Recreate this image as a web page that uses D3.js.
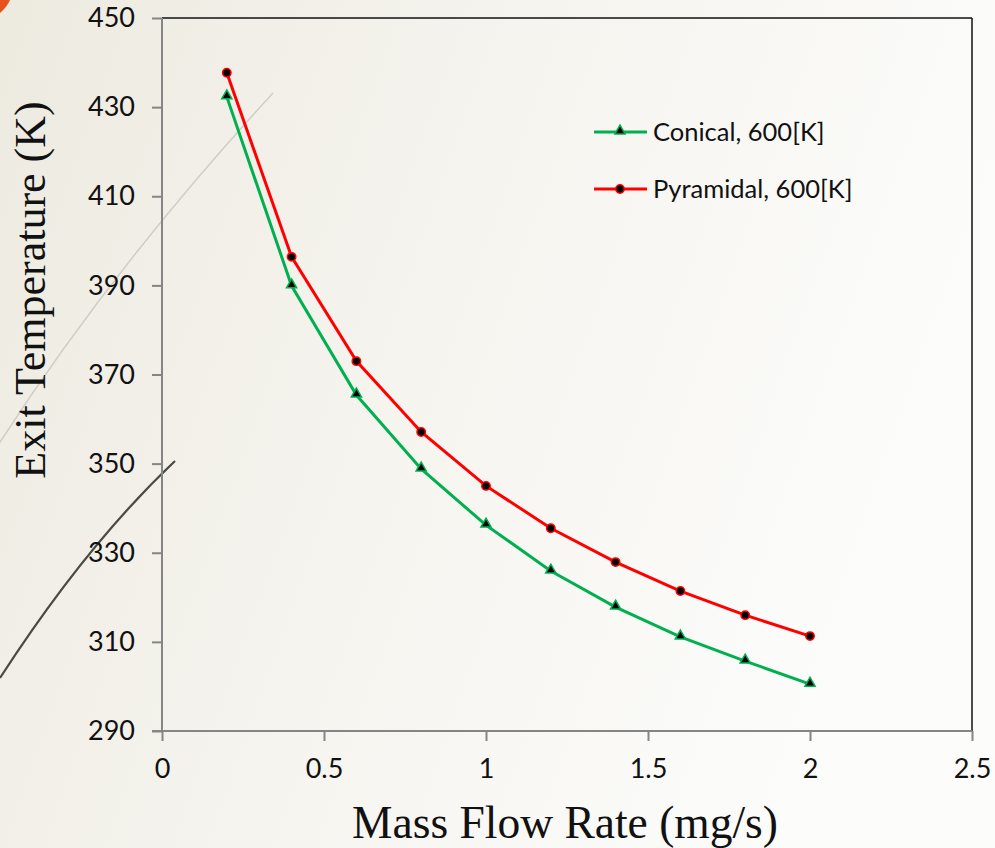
<!DOCTYPE html>
<html><head><meta charset="utf-8">
<script src="https://cdn.jsdelivr.net/npm/d3@7"></script>
<style>html,body{margin:0;padding:0;background:#fff;}svg{display:block;}</style>
</head><body>
<svg id="c" width="995" height="848"></svg>
<script>
const flowRates = [0.2, 0.4, 0.6, 0.8, 1.0, 1.2, 1.4, 1.6, 1.8, 2.0];
const conical = [432.3, 389.9, 365.4, 348.8, 336.2, 325.9, 317.8, 311.1, 305.7, 300.5];
const pyramidal = [437.7, 396.4, 373.0, 357.1, 345.0, 335.5, 327.9, 321.4, 316.0, 311.3];
const seriesNames = ["Conical, 600[K]", "Pyramidal, 600[K]"];
const xTicks = [0, 0.5, 1, 1.5, 2, 2.5];
const yTicks = [290, 310, 330, 350, 370, 390, 410, 430, 450];

const svg = d3.select("#c");
const W = 995, H = 848;
const defs = svg.append("defs");
const g = defs.append("linearGradient").attr("id","bg").attr("x1","0").attr("y1","0").attr("x2","1").attr("y2","0.3");
g.append("stop").attr("offset","0").attr("stop-color","#edeae0");
g.append("stop").attr("offset","0.55").attr("stop-color","#f6f5f0");
g.append("stop").attr("offset","1").attr("stop-color","#fcfcfb");
svg.append("rect").attr("width",W).attr("height",H).attr("fill","url(#bg)");

// decorative slide curves
svg.append("path").attr("d","M -5,450 Q 110,270 273,93").attr("fill","none").attr("stroke","#cfcdc7").attr("stroke-width",1.5);
svg.append("path").attr("d","M 175,461 Q 86,545 0,678").attr("fill","none").attr("stroke","#4a4a44").attr("stroke-width",2.2);
svg.append("path").attr("d","M 0,0 L 10,0 Q 7,7 0,13 Z").attr("fill","#e8521e");

const m = {l:162, r:972, t:18, b:731};
const x = d3.scaleLinear().domain([0,2.5]).range([m.l, m.r]);
const y = d3.scaleLinear().domain([290,450]).range([m.b, m.t]);

// frame
svg.append("line").attr("x1",m.l).attr("x2",m.r).attr("y1",m.t).attr("y2",m.t).attr("stroke","#111").attr("stroke-width",1.5);
svg.append("line").attr("x1",m.r).attr("x2",m.r).attr("y1",m.t).attr("y2",m.b).attr("stroke","#111").attr("stroke-width",1.5);

const tickFont = "'URW Gothic','Century Gothic',Lato,'DejaVu Sans',sans-serif";
const yAx = svg.append("g").attr("transform",`translate(${m.l},0)`)
  .call(d3.axisLeft(y).tickValues(yTicks).tickSize(10).tickPadding(17).tickFormat(d3.format("d")));
const xAx = svg.append("g").attr("transform",`translate(0,${m.b})`)
  .call(d3.axisBottom(x).tickValues(xTicks).tickSize(10).tickPadding(18).tickFormat(d => d3.format("")(d)));
[yAx, xAx].forEach(a => {
  a.select(".domain").attr("stroke","#858585").attr("stroke-width",2);
  a.selectAll(".tick line").attr("stroke","#858585").attr("stroke-width",2);
  a.selectAll("text").attr("fill","#111").attr("font-family",tickFont).attr("font-size",27);
});
yAx.select(".domain").attr("d",`M-10,${m.b}H0V${m.t}`);
xAx.select(".domain").attr("d",`M${m.l},0H${m.r}`);

const line = d3.line().x((d,i)=>x(flowRates[i])).y(d=>y(d));
const greenC = "#00b050", redC = "#ff0000";
svg.append("path").datum(conical).attr("d",line).attr("fill","none").attr("stroke",greenC).attr("stroke-width",3);
svg.append("path").datum(pyramidal).attr("d",line).attr("fill","none").attr("stroke",redC).attr("stroke-width",3);

const tri = d3.symbol().type(d3.symbolTriangle).size(45);
svg.selectAll(".tri").data(conical).enter().append("path")
  .attr("d",tri).attr("transform",(d,i)=>`translate(${x(flowRates[i])},${y(d)-1})`)
  .attr("fill","#000").attr("stroke",greenC).attr("stroke-width",1.5);
svg.selectAll(".dot").data(pyramidal).enter().append("circle")
  .attr("cx",(d,i)=>x(flowRates[i])).attr("cy",d=>y(d)).attr("r",4.2)
  .attr("fill","#000").attr("stroke",redC).attr("stroke-width",1.5);

// legend
const lg = svg.append("g");
[[seriesNames[0], greenC, "tri", 132],[seriesNames[1], redC, "dot", 189]].forEach(([name,c,t,ly])=>{
  lg.append("line").attr("x1",594).attr("x2",647).attr("y1",ly).attr("y2",ly).attr("stroke",c).attr("stroke-width",3);
  if (t==="tri") lg.append("path").attr("d",tri).attr("transform",`translate(620,${ly-1})`).attr("fill","#000").attr("stroke",c).attr("stroke-width",1.5);
  else lg.append("circle").attr("cx",620).attr("cy",ly).attr("r",4.2).attr("fill","#000").attr("stroke",c).attr("stroke-width",1.5);
  lg.append("text").attr("x",653).attr("y",ly+9).text(name).attr("font-family",tickFont).attr("font-size",25.5).attr("fill","#111");
});

svg.append("text").attr("x",565).attr("y",838).attr("text-anchor","middle").text("Mass Flow Rate (mg/s)")
  .attr("font-family","'Liberation Serif','Times New Roman',serif").attr("font-size",45.5).attr("fill","#111");
svg.append("text").attr("transform","translate(45,290) rotate(-90)").attr("text-anchor","middle").text("Exit Temperature (K)")
  .attr("font-family","'Liberation Serif','Times New Roman',serif").attr("font-size",44).attr("fill","#111");
</script>
</body></html>
